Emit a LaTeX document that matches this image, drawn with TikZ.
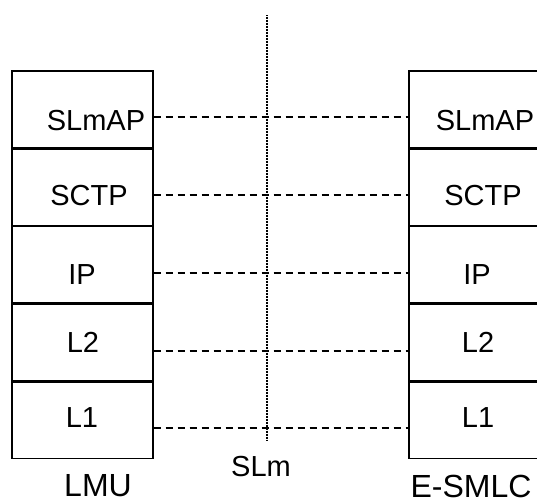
\documentclass[tikz,border=0pt]{standalone}
\usepackage{fontspec}
\setmainfont{Liberation Sans}
\usetikzlibrary{positioning}

\tikzset{
  cell/.style={draw=black,line width=1.4pt,minimum width=141pt,minimum height=76.4pt,inner sep=0pt},
  layer/.style={font=\fontsize{29}{34}\selectfont,inner sep=0pt},
  entity/.style={font=\fontsize{32}{38}\selectfont,inner sep=0pt},
  peer/.style={line width=2pt,dash pattern=on 7pt off 5pt},
  ref/.style={line width=2pt,dash pattern=on 1pt off 0.5pt}
}

\begin{document}
\begin{tikzpicture}[x=1pt,y=1pt]
  \useasboundingbox (0,0) rectangle (537,-499);

  % LMU
  \node[cell] (lslmap) at (82.5,-109.2) {};
  \node[cell,below=0pt of lslmap] (lsctp) {};
  \node[cell,below=0pt of lsctp] (lip) {};
  \node[cell,below=0pt of lip] (ltwo) {};
  \node[cell,below=0pt of ltwo] (lone) {};

  \node[layer] at (96,-121) {SLmAP};
  \node[layer] at (89,-196) {SCTP};
  \node[layer] at (82,-275) {IP};
  \node[layer] at (83,-342) {L2};
  \node[layer] at (82,-418) {L1};
  \node[entity] (lmu) at (98,-486) {LMU};

  % E-SMLC
  \node[cell] (rslmap) at (479.5,-109.2) {};
  \node[cell,below=0pt of rslmap] (rsctp) {};
  \node[cell,below=0pt of rsctp] (rip) {};
  \node[cell,below=0pt of rip] (rtwo) {};
  \node[cell,below=0pt of rtwo] (rone) {};

  \node[layer] at (485,-121) {SLmAP};
  \node[layer] at (483,-196) {SCTP};
  \node[layer] at (477,-275) {IP};
  \node[layer] at (478,-342) {L2};
  \node[layer] at (478,-418) {L1};
  \node[entity] (esmlc) at (471,-486) {E-SMLC};

  % SLm
  \coordinate (top) at (267,-15);
  \coordinate (bot) at (267,-441);
  \draw[ref] (top) -- (bot);
  \node[layer] (slm) at (261,-467) {SLm};

  \draw[peer] ([yshift=-8pt]lslmap.east) -- ([yshift=-8pt]rslmap.west);
  \draw[peer] ([yshift=-8pt]lsctp.east) -- ([yshift=-8pt]rsctp.west);
  \draw[peer] ([yshift=-8pt]lip.east) -- ([yshift=-8pt]rip.west);
  \draw[peer] ([yshift=-8pt]ltwo.east) -- ([yshift=-8pt]rtwo.west);
  \draw[peer] ([yshift=-8pt]lone.east) -- ([yshift=-8pt]rone.west);
\end{tikzpicture}
\end{document}
